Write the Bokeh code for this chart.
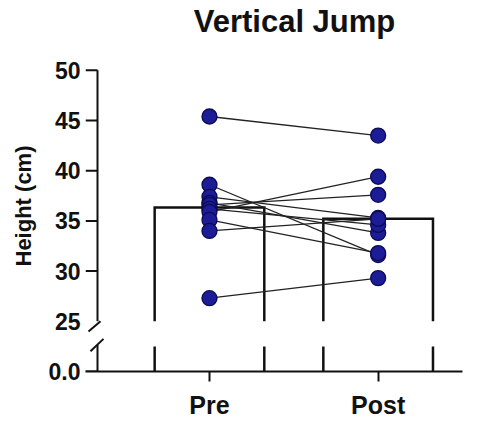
import numpy as np
from bokeh.plotting import figure
from bokeh.models import FixedTicker, Label, ColumnDataSource, Title
from bokeh.embed import file_html
from bokeh.resources import INLINE

# ---- data -------------------------------------------------------------
groups = ["Pre", "Post"]
pre = [45.4, 38.6, 37.4, 36.8, 36.6, 36.2, 35.9, 35.1, 34.0, 27.3]
post = [43.5, 31.6, 35.3, 33.8, 37.6, 34.6, 39.4, 31.8, 35.2, 29.3]
y_tick_values = [0, 25, 30, 35, 40, 45, 50]
y_tick_labels = ["0.0", "25", "30", "35", "40", "45", "50"]

# ---- broken axis mapping ----------------------------------------------
# upper segment shows 25..50 on its own scale; the value 0 sits just below
BREAK_LOW = 25.0
AXIS_TOP = 50.0
ZERO_POS = 20.0       # plot coordinate where the value 0 is drawn
LOWER_TOP = 22.48     # top of the short lower segment (bars restart here)


def to_plot(v):
    return ZERO_POS if v == 0 else v


FONT = "Liberation Sans"
INK = "#111111"

# frame geometry: frame runs to the top edge so the heading sits inside it
W, H = 483, 421
LEFT, RIGHT, BOTTOM = 85, 21, 49
AXIS_TOP_PX = 70                      # pixel row of the 50 tick
X0, X1 = 0.265, 2.5
px_x = (X1 - X0) / (W - LEFT - RIGHT)
px_y = (AXIS_TOP - ZERO_POS) / (H - BOTTOM - AXIS_TOP_PX)
Y0, Y1 = ZERO_POS, AXIS_TOP + AXIS_TOP_PX * px_y
AXIS_X = X0 + 12 * px_x               # y-axis line position (ticks drawn inward)


def row(py):
    """plot y coordinate of a pixel row measured from the top"""
    return Y1 - py * px_y


p = figure(width=W, height=H, x_range=(X0, X1), y_range=(Y0, Y1),
           output_backend="svg", toolbar_location=None,
           min_border_left=LEFT, min_border_right=RIGHT,
           min_border_top=0, min_border_bottom=BOTTOM)
p.outline_line_color = None
p.xgrid.visible = False
p.ygrid.visible = False
p.background_fill_color = "white"
p.border_fill_color = "white"

xs = [1, 2]
means = [float(np.mean(pre)), float(np.mean(post))]
bar_w = 0.65

# ---- bars (open outline, broken at the axis gap) -----------------------
upper_x, upper_y = [], []
low_x0, low_x1, low_y0, low_y1 = [], [], [], []
for x, m in zip(xs, means):
    l, r = x - bar_w / 2, x + bar_w / 2
    upper_x.append([l, l, r, r])
    upper_y.append([BREAK_LOW, m, m, BREAK_LOW])
    for e in (l, r):
        low_x0.append(e); low_x1.append(e)
        low_y0.append(ZERO_POS); low_y1.append(LOWER_TOP)
p.multi_line(upper_x, upper_y, line_color=INK, line_width=2.5,
             line_join="miter")
p.segment(low_x0, low_y0, low_x1, low_y1, line_color=INK, line_width=2.5)

# ---- paired lines and points ------------------------------------------
p.multi_line([[1, 2] for _ in pre], [[a, b] for a, b in zip(pre, post)],
             line_color="#222222", line_width=1.3)
pts = ColumnDataSource(dict(x=[1] * len(pre) + [2] * len(post), y=pre + post))
p.scatter("x", "y", source=pts, size=15, fill_color="#1c1c96",
          line_color="#0b0b55", line_width=1.3)

# ---- y axis drawn by hand (line, ticks, break marks) -------------------
p.segment([AXIS_X, AXIS_X], [BREAK_LOW, ZERO_POS], [AXIS_X, AXIS_X],
          [AXIS_TOP, row(345.5)], line_color=INK, line_width=2)
tick_pos = [to_plot(v) for v in y_tick_values if v != BREAK_LOW]
p.segment([X0] * len(tick_pos), tick_pos, [AXIS_X] * len(tick_pos), tick_pos,
          line_color=INK, line_width=2)
# slanted break marks
p.segment([X0 + 3 * px_x, X0 + 5 * px_x], [row(332), row(351.7)],
          [X0 + 15 * px_x, X0 + 18 * px_x], [row(321.5), row(339.3)],
          line_color=INK, line_width=2)

yax = p.yaxis[0]
yax.ticker = FixedTicker(ticks=[to_plot(v) for v in y_tick_values])
yax.major_label_overrides = {to_plot(v): t for v, t in zip(y_tick_values, y_tick_labels)}
yax.axis_line_color = None
yax.major_tick_line_color = None
yax.minor_tick_line_color = None
yax.major_tick_in = 0
yax.major_tick_out = 0
yax.major_label_standoff = 5
yax.major_label_text_font = FONT
yax.major_label_text_font_style = "bold"
yax.major_label_text_font_size = "23px"
yax.major_label_text_color = INK

xax = p.xaxis[0]
xax.ticker = FixedTicker(ticks=xs)
xax.major_label_overrides = {x: g for x, g in zip(xs, groups)}
xax.axis_line_color = INK
xax.axis_line_width = 2
xax.major_tick_line_color = INK
xax.major_tick_line_width = 2
xax.major_tick_in = 0
xax.major_tick_out = 10
xax.minor_tick_line_color = None
xax.major_label_standoff = 9
xax.major_label_text_font = FONT
xax.major_label_text_font_style = "bold"
xax.major_label_text_font_size = "25px"
xax.major_label_text_color = INK

# ---- heading and axis title -------------------------------------------
p.add_layout(Label(x=X0 + (294 - LEFT) * px_x, y=row(21), text="Vertical Jump",
                   text_align="center", text_baseline="alphabetic",
                   text_font=FONT, text_font_style="bold",
                   text_font_size="31px", text_color=INK))
p.add_layout(Title(text="Height (cm)", align="left", offset=105, standoff=16,
                   vertical_align="top", text_font=FONT,
                   text_font_style="bold", text_font_size="22px",
                   text_color=INK), "left")

open("out.html", "w").write(file_html(p, INLINE))
